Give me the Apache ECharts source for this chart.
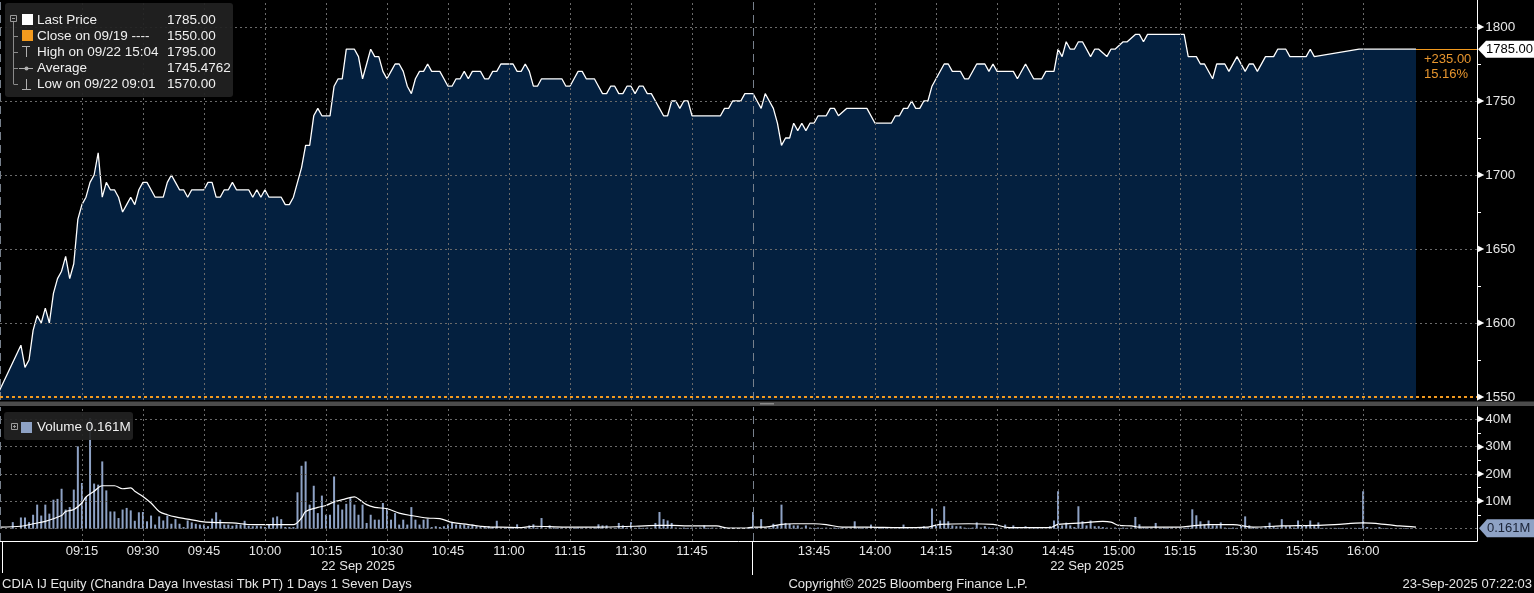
<!DOCTYPE html>
<html><head><meta charset="utf-8">
<script src="https://cdn.jsdelivr.net/npm/echarts@6/dist/echarts.min.js"></script>
<style>html,body{margin:0;padding:0;background:#000;}#c{width:1534px;height:593px;}</style>
</head><body><div id="c"></div>
<script>
// ---------------- DATA ----------------
const priceTimes = [
"08:54","09:00","09:01","09:02","09:03","09:04","09:05","09:06","09:07","09:08",
"09:09","09:10","09:11","09:12","09:13","09:14","09:15","09:16","09:17","09:18",
"09:19","09:20","09:21","09:22","09:23","09:24","09:25","09:26","09:27","09:28",
"09:29","09:30","09:31","09:32","09:33","09:35","09:36","09:37","09:38","09:39",
"09:40","09:41","09:42","09:45","09:46","09:47","09:48","09:49","09:50","09:51",
"09:52","09:53","09:56","09:57","09:58","09:59","10:00","10:01","10:04","10:05",
"10:06","10:07","10:08","10:09","10:10","10:11","10:12","10:13","10:14","10:16",
"10:17","10:18","10:19","10:20","10:22","10:23","10:24","10:25","10:26","10:27",
"10:28","10:29","10:30","10:31","10:32","10:33","10:34","10:35","10:36","10:37",
"10:38","10:39","10:40","10:41","10:43","10:44","10:45","10:46","10:47","10:48",
"10:49","10:50","10:51","10:53","10:54","10:55","10:56","10:57","10:58","11:01",
"11:02","11:03","11:04","11:05","11:06","11:07","11:08","11:13","11:14","11:15",
"11:16","11:17","11:18","11:19","11:21","11:22","11:23","11:24","11:25","11:26",
"11:27","11:28","11:29","11:30","11:31","11:32","11:33","11:34","11:35","11:36",
"11:37","11:38","11:39","11:40","11:41","11:42","11:43","11:44","11:45","11:52",
"11:53","11:54","11:55","11:57","11:58","12:00","13:31","13:32","13:33","13:34",
"13:35","13:36","13:37","13:38","13:39","13:40","13:41","13:42","13:43","13:44",
"13:45","13:46","13:48","13:49","13:50","13:51","13:53","13:58","14:00","14:04",
"14:05","14:06","14:07","14:08","14:09","14:10","14:11","14:12","14:13","14:14",
"14:15","14:17","14:18","14:19","14:21","14:22","14:23","14:25","14:27","14:28",
"14:29","14:30","14:34","14:35","14:37","14:39","14:41","14:42","14:44","14:45",
"14:46","14:47","14:48","14:49","14:50","14:51","14:53","14:54","14:55","14:57",
"14:58","14:59","15:01","15:02","15:04","15:05","15:06","15:07","15:16","15:17",
"15:19","15:20","15:21","15:23","15:24","15:26","15:27","15:29","15:31","15:32",
"15:33","15:34","15:36","15:38","15:39","15:41","15:42","15:46","15:47","15:48",
"15:59","16:13"];
const prices = [
1550,1585,1570,1575,1595,1605,1600,1610,1600,1620,
1630,1635,1645,1630,1640,1670,1680,1685,1695,1700,
1715,1685,1695,1690,1690,1685,1675,1680,1685,1680,
1690,1695,1695,1690,1685,1685,1695,1700,1695,1690,
1690,1685,1690,1690,1695,1695,1685,1685,1690,1690,
1695,1690,1690,1685,1690,1685,1690,1685,1685,1680,
1680,1685,1695,1705,1720,1720,1740,1745,1740,1740,
1760,1765,1765,1785,1785,1780,1765,1775,1785,1780,
1780,1770,1765,1770,1775,1775,1770,1760,1755,1765,
1770,1770,1775,1770,1770,1765,1760,1760,1765,1765,
1770,1765,1770,1770,1765,1765,1770,1770,1775,1775,
1770,1770,1775,1770,1760,1760,1765,1765,1760,1760,
1765,1770,1770,1765,1765,1760,1755,1755,1760,1760,
1755,1755,1760,1760,1755,1760,1760,1755,1755,1750,
1745,1740,1740,1750,1750,1745,1750,1750,1740,1740,
1745,1745,1750,1750,1755,1755,1750,1745,1755,1750,
1745,1735,1720,1725,1725,1735,1730,1735,1730,1735,
1735,1740,1740,1745,1745,1740,1745,1745,1735,1735,
1740,1740,1745,1745,1750,1745,1745,1750,1750,1760,
1765,1775,1775,1770,1770,1765,1765,1775,1775,1770,
1775,1770,1770,1765,1775,1765,1765,1770,1770,1785,
1780,1790,1785,1785,1790,1790,1780,1785,1785,1780,
1785,1785,1790,1790,1795,1795,1790,1795,1795,1780,
1780,1775,1775,1765,1775,1775,1770,1780,1770,1775,
1775,1770,1780,1780,1785,1785,1780,1780,1785,1780,
1785,1785];

// volume (millions of shares), one bar per minute
const volStartAM = "08:58";
const volAM = [
2.4,0,
4.1,4.1,2.4,5.1,8.8,4.8,8.8,5.5,10.6,10.9,
14.6,7.0,7.9,14.3,30.1,16.7,11.6,40.5,16.5,16.1,
24.6,14.0,6.3,6.3,3.9,7.0,7.6,6.7,2.9,6.0,
6.1,2.7,4.8,1.5,4.5,3.0,4.8,1.8,3.5,1.8,
0.6,3.0,2.3,1.8,1.5,1.5,0.9,3.7,6.0,3.3,
1.5,1.5,1.1,1.5,1.5,2.9,1.1,0.9,1.1,0.9,
0.6,1.5,4.1,4.5,3.5,0.6,0.6,0.6,13.3,23.0,
24.6,8.8,15.7,5.7,12.1,5.1,5.1,19.1,8.8,7.0,
9.1,11.2,8.8,5.1,8.8,2.1,5.1,3.3,3.3,9.4,
7.6,3.3,5.7,1.5,3.3,1.5,7.9,3.3,1.5,3.3,
3.5,0.6,0.9,0.6,0.9,1.5,2.1,1.5,1.5,1.5,
1.1,1.5,0.9,0.9,0.6,0.9,0.6,2.9,0.4,0.3,
0.4,0.3,1.6,0.4,0.3,1.2,1.6,0.4,3.9,0.3,
1.2,0.4,0.3,0.4,0.3,0.4,0.3,0.4,0.3,0.4,
0.3,0.4,1.6,1.2,1.2,0.4,0.3,2.1,1.2,0.4,
2.4,0.3,0.4,0.3,0.4,0.3,2.1,6.1,3.5,3.0,
2.1,0.4,0.3,0.4,0.3,0.4,0.3,0.4,1.2,0.3,
0.4,0.3,0.4,0.3,0.2,0.3,0.2,0.3,0.2,0.3];
const volStartPM = "13:30";
const volPM = [
6.1,0.4,3.5,0.4,0.4,1.8,1.2,8.8,2.1,1.8,
1.2,1.2,0.4,1.2,0.4,0.3,0.4,0.3,0.4,0.3,
0.4,0.3,0.4,0.3,0.4,2.7,0.4,0.3,0.4,1.5,
0.3,0.4,0.3,0.4,0.3,0.4,0.3,1.5,0.4,0.3,
0.4,0.3,0.9,0.4,7.4,1.5,3.0,8.2,2.7,1.2,
0.9,0.9,0.4,0.3,0.4,2.3,0.4,0.9,0.4,0.3,
0.4,0.3,1.5,0.4,1.2,0.3,0.4,0.9,0.3,0.4,
0.3,0.4,0.3,0.9,3.0,13.7,1.2,2.2,1.2,0.6,
8.2,2.7,1.2,3.0,0.9,0.9,0.6,0.4,0.3,0.4,
0.3,0.4,0.3,0.4,4.3,1.6,0.4,0.3,0.4,2.1,
0.3,0.4,0.3,0.4,0.3,0.4,0.3,0.4,7.1,4.9,
2.7,1.5,3.0,1.2,1.2,2.3,0.4,0.3,0.4,0.3,
1.2,4.5,1.2,0.4,0.3,0.4,0.9,2.2,0.9,0.4,
3.5,0.9,0.9,0.4,3.0,1.2,1.2,3.0,1.2,2.3,
0.3,0.3,0.3,0.3,0.3,0.3,0.3,0.3,0.3,0.3,
13.7,0.6,0.3,0.3,0.6,0.2,0.2,0.2,0.2,0.2,
0.2,0.2,0.2,0.2,0.161];

// volume moving-average line (millions)
const maTimes = [
"08:55","09:00","09:03","09:06","09:10","09:11","09:13","09:15","09:16","09:18",
"09:20","09:23","09:25","09:27","09:28","09:30","09:32","09:34","09:36","09:38",
"09:41","09:44","09:47","09:52","09:57","10:00","10:05","10:07","10:09","10:10",
"10:13","10:15","10:17","10:19","10:22","10:23","10:25","10:27","10:30","10:33",
"10:36","10:40","10:43","10:46","10:50","10:53","10:56","10:58","11:03","11:06",
"11:14","11:22","11:31","11:37","11:40","11:44","11:51","11:54","11:58","13:30",
"13:33","13:37","13:40","13:45","13:48","13:52","13:58","14:06","14:13","14:16",
"14:23","14:29","14:33","14:43","14:45","14:51","14:56","14:58","15:00","15:03",
"15:05","15:15","15:18","15:22","15:28","15:33","15:40","15:48","15:53","16:00",
"16:06","16:09","16:13"];
const maValues = [
0.6,0.9,1.8,2.7,4.8,6.3,7.0,9.4,11.6,13.7,
15.7,15.7,14.6,14.9,13.7,11.8,9.4,6.3,5.1,4.3,
3.5,2.7,2.3,2.1,1.5,1.5,1.5,1.5,3.9,6.3,
7.8,8.5,9.8,10.6,11.6,10.9,8.8,7.8,7.3,5.7,
4.8,3.9,3.7,2.3,1.5,0.9,0.6,0.6,0.4,0.9,
0.6,0.6,0.9,1.2,1.2,1.0,1.0,0.2,0.2,0.6,
0.6,1.6,1.8,1.8,1.5,0.6,0.6,0.4,0.6,1.6,
1.8,1.6,0.4,0.4,1.6,2.1,2.7,2.4,1.2,1.0,
0.6,0.6,1.0,1.5,1.5,0.6,1.0,1.2,1.5,2.1,
1.5,1.0,0.6];

const xTickTimes = ["09:15","09:30","09:45","10:00","10:15","10:30","10:45","11:00","11:15","11:30","11:45",
                    "13:45","14:00","14:15","14:30","14:45","15:00","15:15","15:30","15:45","16:00"];
const sessionBreaks = ["08:55","12:00"];
const priceTicks = [1550,1600,1650,1700,1750,1800];
const priceMinorTicks = [1575,1625,1675,1725,1775];
const volTicks = [10,20,30,40];
const volMinorTicks = [5,15,25,35];

const legendLabels = ["Last Price","Close on 09/19 ----","High on 09/22 15:04","Average","Low on 09/22 09:01"];
const legendValues = ["1785.00","1550.00","1795.00","1745.4762","1570.00"];
const lastPrice = 1785.00;
const prevClose = 1550.00;
const lastVolume = 0.161;

const footerLeft = "CDIA IJ Equity (Chandra Daya Investasi Tbk PT) 1 Days 1 Seven Days";
const footerMid = "Copyright\u00a9 2025 Bloomberg Finance L.P.";
const footerRight = "23-Sep-2025 07:22:03";
const dateLabel = "22 Sep 2025";

// ---------------- HELPERS ----------------
// compressed trading-minute axis: 09:00 -> 0, 12:00 / 13:30 -> 180
const tOf = s => { const [h, m] = s.split(':').map(Number); const v = h * 60 + m; return v <= 720 ? v - 540 : 180 + (v - 810); };
const fmtT = t => { const b = t <= 180 ? 540 + t : 810 + (t - 180); return String(Math.floor(b / 60)).padStart(2, '0') + ':' + String(b % 60).padStart(2, '0'); };

const n = Math.min(priceTimes.length, prices.length);
const priceData = [];
for (let i = 0; i < n; i++) priceData.push([tOf(priceTimes[i]), prices[i]]);
const volData = [];
volAM.forEach((v, i) => volData.push([tOf(volStartAM) + i, v]));
volPM.forEach((v, i) => volData.push([tOf(volStartPM) + i, v]));
const maData = [];
for (let i = 0; i < Math.min(maTimes.length, maValues.length); i++) maData.push([tOf(maTimes[i]), maValues[i]]);
const xTicks = xTickTimes.map(tOf);

const FONT = '"Liberation Sans", Arial, sans-serif';
const TXT = '#e6e6e6';
const X_MIN = -5.14, X_MAX = 358.0;
const Y_MIN = 1547.97, Y_MAX = 1818.24;
const V_MIN = -4.5, V_MAX = 44.5;

const gridStyle = { color: '#6a6a6a', width: 1, type: [2, 3] };
const sessStyle = { color: '#77808c', width: 1, type: [8, 5] };
const vLines = () => xTicks.map(t => ({ xAxis: t, lineStyle: gridStyle }))
  .concat(sessionBreaks.map(s => ({ xAxis: tOf(s), lineStyle: sessStyle })));

const chart = echarts.init(document.getElementById('c'));

const yLabel = (fmt) => ({
  show: true, margin: 1, formatter: fmt,
  rich: {
    t: { fontSize: 8, color: '#ffffff', fontFamily: '"DejaVu Sans"', padding: [0, 1, 0, 0] },
    v: { fontSize: 13.5, color: TXT, fontFamily: FONT }
  }
});

chart.setOption({
  backgroundColor: '#000',
  animation: false,
  grid: [
    { left: 0, top: 0, width: 1477, height: 400, outerBoundsMode: 'none' },
    { left: 0, top: 407, width: 1477, height: 134, outerBoundsMode: 'none' }
  ],
  xAxis: [
    { type: 'value', gridIndex: 0, min: X_MIN, max: X_MAX, show: false },
    { type: 'value', gridIndex: 1, min: X_MIN, max: X_MAX,
      axisLine: { show: true, onZero: false, lineStyle: { color: '#ffffff', width: 1 } },
      axisTick: { show: false }, splitLine: { show: false },
      axisLabel: { customValues: xTicks, formatter: v => fmtT(v), color: TXT, fontSize: 13, fontFamily: FONT, margin: 4 } }
  ],
  yAxis: [
    { type: 'value', gridIndex: 0, position: 'right', min: Y_MIN, max: Y_MAX,
      axisLine: { show: true, onZero: false, lineStyle: { color: '#ffffff', width: 1 } },
      axisTick: { show: true, customValues: priceMinorTicks, length: 4, lineStyle: { color: '#ffffff' } },
      splitLine: { show: false },
      axisLabel: Object.assign(yLabel(v => '{t|\u25B6}{v|' + v + '}'), { customValues: priceTicks }) },
    { type: 'value', gridIndex: 1, position: 'right', min: V_MIN, max: V_MAX,
      axisLine: { show: true, onZero: false, lineStyle: { color: '#ffffff', width: 1 } },
      axisTick: { show: true, customValues: volMinorTicks, length: 4, lineStyle: { color: '#ffffff' } },
      splitLine: { show: false },
      axisLabel: Object.assign(yLabel(v => '{t|\u25B6}{v|' + v + 'M}'), { customValues: volTicks }) }
  ],
  series: [
    { type: 'line', xAxisIndex: 0, yAxisIndex: 0, data: priceData, symbol: 'none', showSymbol: false,
      lineStyle: { color: '#ffffff', width: 1.3 }, areaStyle: { color: '#04203f', opacity: 1 },
      clip: true, silent: true,
      markLine: { silent: true, symbol: ['none', 'none'], label: { show: false },
        data: priceTicks.slice(1).map(v => ({ yAxis: v, lineStyle: gridStyle }))
          .concat(vLines())
          .concat([{ yAxis: prevClose, lineStyle: { color: '#f39a1e', width: 2, type: [3, 3] } }]) } },
    { type: 'bar', xAxisIndex: 1, yAxisIndex: 1, data: volData, barWidth: 2, silent: true,
      itemStyle: { color: '#8ea2c5' },
      markLine: { silent: true, symbol: ['none', 'none'], label: { show: false },
        data: [0].concat(volTicks).map(v => ({ yAxis: v, lineStyle: gridStyle })).concat(vLines()) } },
    { type: 'line', xAxisIndex: 1, yAxisIndex: 1, data: maData, symbol: 'none', showSymbol: false, smooth: 0.35,
      lineStyle: { color: '#ffffff', width: 1.2 }, silent: true, z: 4 }
  ]
});

// ---------------- ANNOTATIONS (positioned through the chart's scales) ----------------
const lastT = priceData[priceData.length - 1][0];
const [xLast, yLast] = chart.convertToPixel({ gridIndex: 0 }, [lastT, lastPrice]);
const [xAxisEnd] = chart.convertToPixel({ gridIndex: 0 }, [X_MAX, lastPrice]);
const [, yVol] = chart.convertToPixel({ gridIndex: 1 }, [X_MAX, lastVolume]);
const [xBreak] = chart.convertToPixel({ gridIndex: 1 }, [tOf(sessionBreaks[1]), 0]);
const chg = lastPrice - prevClose;
const pct = chg / prevClose * 100;

const g = [];
const txt = (x, y, text, opt, z) => g.push({ type: 'text', x, y, z: z || 120,
  style: Object.assign({ text, fill: TXT, font: '13px ' + FONT, verticalAlign: 'middle', align: 'left' }, opt || {}) });
const line = (x1, y1, x2, y2, stroke, w) => g.push({ type: 'line', z: 120, shape: { x1, y1, x2, y2 }, style: { stroke, lineWidth: w || 1 } });
const rect = (x, y, w, h, fill, r, z) => g.push({ type: 'rect', z: z || 110, shape: { x, y, width: w, height: h, r: r || 0 }, style: { fill } });

// separator between panels
rect(0, 401.5, 1534, 4.5, '#4b4b4b', 0, 130);
rect(760, 403, 14, 1.5, '#8a8a8a', 0, 131);

// price legend box
rect(5, 3, 228, 94, 'rgba(34,34,34,0.92)', 3);
g.push({ type: 'rect', z: 120, shape: { x: 10.5, y: 15.5, width: 6, height: 6 }, style: { fill: 'none', stroke: '#9a9a9a', lineWidth: 1 } });
line(12, 18.5, 15, 18.5, '#9a9a9a');
line(13.5, 22, 13.5, 84, '#8a8a8a');
[36, 52, 68, 84].forEach(y => line(13.5, y + 0.5, 18, y + 0.5, '#8a8a8a'));
rect(22, 14, 11, 11, '#ffffff', 0, 120);
rect(22, 30, 11, 11, '#f39a1e', 0, 120);
line(22, 46.5, 30, 46.5, '#b0b0b0'); line(26.5, 46, 26.5, 57, '#b0b0b0');
line(19, 68.5, 33, 68.5, '#b0b0b0'); g.push({ type: 'circle', z: 121, shape: { cx: 26.5, cy: 68.5, r: 2 }, style: { fill: '#b0b0b0' } });
line(26.5, 79, 26.5, 89, '#b0b0b0'); line(22, 89.5, 31, 89.5, '#b0b0b0');
const rowsY = [20, 36, 52, 68, 84];
legendLabels.forEach((s, i) => txt(37, rowsY[i], s, { font: '13.5px ' + FONT, fill: '#f0f0f0' }));
legendValues.forEach((s, i) => txt(167, rowsY[i], s, { font: '13.5px ' + FONT, fill: '#f0f0f0' }));

// volume legend box
rect(4, 412, 129, 28, 'rgba(34,34,34,0.92)', 3);
g.push({ type: 'rect', z: 120, shape: { x: 11.5, y: 423.5, width: 6, height: 6 }, style: { fill: 'none', stroke: '#9a9a9a', lineWidth: 1 } });
line(13, 426.5, 16, 426.5, '#9a9a9a'); line(14.5, 425, 14.5, 428, '#9a9a9a');
rect(21, 422, 11, 11, '#8ea2c5', 0, 120);
txt(37, 427.5, 'Volume ' + lastVolume.toFixed(3) + 'M', { font: '13.5px ' + FONT, fill: '#f0f0f0' });

// last-price connector, change text and tag
line(xLast, Math.round(yLast) + 0.5, xAxisEnd, Math.round(yLast) + 0.5, '#f39a1e', 1);
txt(xLast + 8, yLast + 10, '+' + chg.toFixed(2), { fill: '#e8962e', font: '13px ' + FONT });
txt(xLast + 8, yLast + 25, pct.toFixed(2) + '%', { fill: '#e8962e', font: '13px ' + FONT });
g.push({ type: 'polygon', z: 125, shape: { points: [[xAxisEnd + 1, yLast], [xAxisEnd + 9, yLast - 8.5], [1534, yLast - 8.5], [1534, yLast + 8.5], [xAxisEnd + 9, yLast + 8.5]] }, style: { fill: '#ffffff' } });
txt(xAxisEnd + 9, yLast + 0.5, lastPrice.toFixed(2), { fill: '#000000', font: '13px ' + FONT }, 126);
g.push({ type: 'polygon', z: 125, shape: { points: [[xAxisEnd + 2, yVol], [xAxisEnd + 10, yVol - 9], [1534, yVol - 9], [1534, yVol + 9], [xAxisEnd + 10, yVol + 9]] }, style: { fill: '#8ea2c5' } });
txt(xAxisEnd + 10, yVol + 0.5, lastVolume.toFixed(3) + 'M', { fill: '#1a2336', font: '13px ' + FONT }, 126);

// session separators under the time axis
line(2.5, 541, 2.5, 573, '#ffffff');
line(Math.round(xBreak) - 0.5, 541, Math.round(xBreak) - 0.5, 575, '#ffffff');
txt(358, 566, dateLabel, { align: 'center', font: '13px ' + FONT });
txt(1087, 566, dateLabel, { align: 'center', font: '13px ' + FONT });

// footer
txt(2, 584, footerLeft, { font: '13px ' + FONT });
txt(908, 584, footerMid, { align: 'center', font: '13px ' + FONT });
txt(1532, 584, footerRight, { align: 'right', font: '13px ' + FONT });

chart.setOption({ graphic: g });
</script>
</body></html>
